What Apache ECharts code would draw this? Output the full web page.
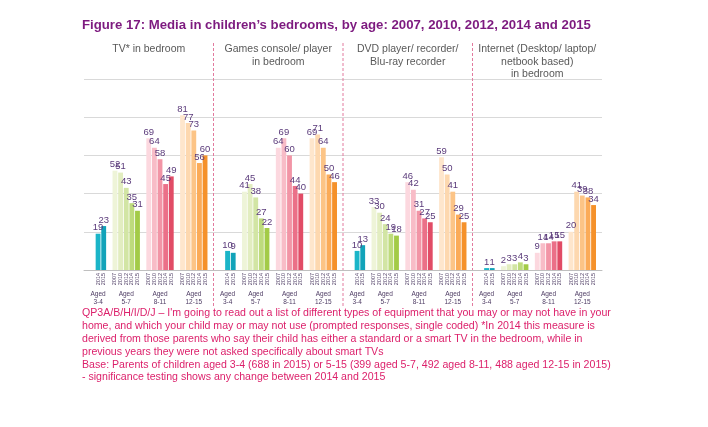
<!DOCTYPE html>
<html>
<head>
    <meta charset="UTF-8">
    <title>Figure 17: Media in children's bedrooms</title>
    <script src="https://cdn.jsdelivr.net/npm/echarts/dist/echarts.min.js"></script>
    <style>
        html, body { margin: 0; padding: 0; background: #fff; }
        #main { width: 708px; height: 427px; }
    </style>
</head>
<body>
    <div id="main"></div>
    <script type="text/javascript">
        // categories
        var panelTitles = [
            'TV* in bedroom',
            'Games console/ player\nin bedroom',
            'DVD player/ recorder/\nBlu-ray recorder',
            'Internet (Desktop/ laptop/\nnetbook based)\nin bedroom'
        ];
        var ageGroups = ['3-4', '5-7', '8-11', '12-15'];
        var yearsYoung = ['2014', '2015'];
        var yearsAll = ['2007', '2010', '2012', '2014', '2015'];

        // values per age group (3-4 only 2014, 2015)
        var tvValues = [[19, 23], [52, 51, 43, 35, 31], [69, 64, 58, 45, 49], [81, 77, 73, 56, 60]];
        var gamesValues = [[10, 9], [41, 45, 38, 27, 22], [64, 69, 60, 44, 40], [69, 71, 64, 50, 46]];
        var dvdValues = [[10, 13], [33, 30, 24, 19, 18], [46, 42, 31, 27, 25], [59, 50, 41, 29, 25]];
        var internetValues = [[1, 1], [2, 3, 3, 4, 3], [9, 14, 14, 15, 15], [20, 41, 39, 38, 34]];

        var ageColors = [
            ['#1bb5c8', '#12a3b9'],
            ['#eef4d8', '#e2edc0', '#d2e5a4', '#bedb7c', '#a3cb47'],
            ['#fcd8df', '#f8bcc7', '#f295a6', '#eb7088', '#e14c66'],
            ['#fee6cc', '#fdd8af', '#fcc486', '#fbab58', '#f5912a']
        ];

        var footnote = "QP3A/B/H/I/D/J \u2013 I'm going to read out a list of different types of equipment that you may or may not have in your\n" +
            "home, and which your child may or may not use (prompted responses, single coded) *In 2014 this measure is\n" +
            "derived from those parents who say their child has either a standard or a smart TV in the bedroom, while in\n" +
            "previous years they were not asked specifically about smart TVs\n" +
            "Base: Parents of children aged 3-4 (688 in 2015) or 5-15 (399 aged 5-7, 492 aged 8-11, 488 aged 12-15 in 2015)\n" +
            "- significance testing shows any change between 2014 and 2015";

        var panels = [tvValues, gamesValues, dvdValues, internetValues];

        // build slots: 2 lead blanks, groups separated by one blank, one trailing blank
        var slots = [], yearLabels = [], ageLabels = [], barData = [];
        var panelRanges = [];
        function addBlank() {
            slots.push('s' + slots.length);
            yearLabels.push('');
            ageLabels.push('');
            barData.push('-');
        }
        panels.forEach(function (panel) {
            var start = slots.length;
            addBlank(); addBlank();
            panel.forEach(function (vals, g) {
                var yrs = vals.length === 2 ? yearsYoung : yearsAll;
                var mid = vals.length === 2 ? 0 : 2;
                vals.forEach(function (v, i) {
                    slots.push('s' + slots.length);
                    yearLabels.push(yrs[i]);
                    ageLabels.push(i === mid ? 'Aged\n' + ageGroups[g] : '');
                    barData.push({ value: v, itemStyle: { color: ageColors[g][i] } });
                });
                addBlank();
            });
            panelRanges.push([start, slots.length - 1]);
        });

        var chart = echarts.init(document.getElementById('main'));
        var font = 'Liberation Sans, Arial, sans-serif';

        var option = {
            animation: false,
            textStyle: { fontFamily: font },
            title: {
                text: "Figure 17: Media in children\u2019s bedrooms, by age: 2007, 2010, 2012, 2014 and 2015",
                left: 77,
                top: 14,
                textStyle: { fontSize: 13.2, fontWeight: 'bold', color: '#7d1a7f', fontFamily: font }
            },
            grid: { left: 84, right: 106, top: 79, bottom: 157 },
            xAxis: [{
                type: 'category',
                data: slots,
                axisLine: { show: true, lineStyle: { color: '#bfbfbf' } },
                axisTick: { show: false },
                axisLabel: {
                    interval: 0,
                    rotate: 90,
                    margin: 3,
                    fontSize: 5.5,
                    color: '#4d3b63',
                    formatter: function (v, idx) { return yearLabels[idx]; }
                }
            }, {
                type: 'category',
                data: slots,
                position: 'bottom',
                offset: 12,
                axisLine: { show: false },
                axisTick: { show: false },
                axisLabel: {
                    interval: 0,
                    fontSize: 6.5,
                    lineHeight: 8,
                    color: '#4d3b63',
                    formatter: function (v, idx) { return ageLabels[idx]; }
                }
            }],
            yAxis: {
                type: 'value',
                min: 0,
                max: 100,
                interval: 20,
                axisLabel: { show: false },
                axisLine: { show: false },
                axisTick: { show: false },
                splitLine: { lineStyle: { color: '#d9d9d9' } }
            },
            series: [{
                type: 'bar',
                data: barData,
                barCategoryGap: '14%',
                label: {
                    show: true,
                    position: 'top',
                    distance: 1,
                    fontSize: 9.5,
                    color: '#5a3a7a',
                    fontFamily: font
                }
            }]
        };
        chart.setOption(option);

        // dividers and panel titles placed from the axis scale
        var graphics = [];
        panelRanges.forEach(function (r, p) {
            var x0 = chart.convertToPixel({ xAxisIndex: 0 }, slots[r[0]]);
            var x1 = chart.convertToPixel({ xAxisIndex: 0 }, slots[r[1]]);
            var step = (x1 - x0) / (r[1] - r[0]);
            var cx = (x0 + x1) / 2;
            graphics.push({
                type: 'text',
                x: cx, y: 43,
                style: {
                    text: panelTitles[p],
                    fill: '#595959',
                    font: '10.5px ' + font,
                    align: 'center',
                    verticalAlign: 'top',
                    lineHeight: 12.5
                }
            });
            if (p < panelRanges.length - 1) {
                var bx = x1 + step / 2;
                graphics.push({
                    type: 'line',
                    shape: { x1: bx, y1: 43, x2: bx, y2: 308 },
                    style: { stroke: '#e27a9e', lineWidth: 1, lineDash: [3, 2] }
                });
            }
        });
        graphics.push({
            type: 'text',
            x: 82, y: 307,
            style: {
                text: footnote,
                fill: '#dc1f6a',
                font: '10.6px ' + font,
                lineHeight: 12.8,
                verticalAlign: 'top'
            }
        });
        chart.setOption({ graphic: graphics });
    </script>
</body>
</html>
